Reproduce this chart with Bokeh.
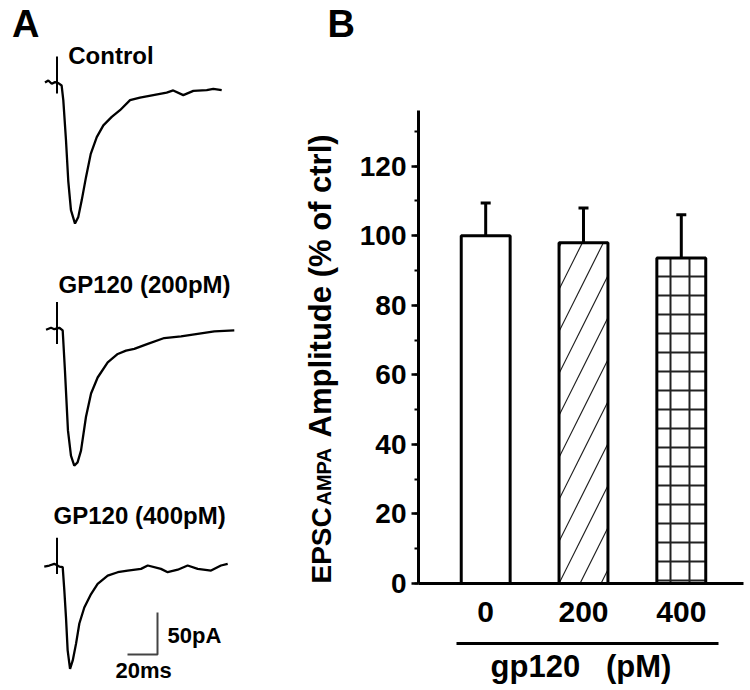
from bokeh.plotting import figure
from bokeh.models import (Range1d, Label, LinearAxis, SingleIntervalTicker, FixedTicker,
                          Whisker, TeeHead, ColumnDataSource)
from bokeh.layouts import row
from bokeh.embed import file_html
from bokeh.resources import INLINE
from math import pi

FONT = "Liberation Sans"

# ---------------- Panel A: EPSC traces (time in ms, current in pA vs baseline) ----
ctrl_t = [-8.0, -5.8, -3.5, -1.3, 0.9, 3.1, 4.2, 6.0, 7.5, 9.3, 12.0, 14.2, 16.5, 19.3,
          22.5, 26.5, 30.9, 36.5, 42.0, 48.7, 55.3, 64.2, 73.1, 77.5, 84.2, 90.9, 99.8,
          104.2, 109.8]
ctrl_i = [0.0, 2.4, -1.5, 0.4, -0.8, -3.6, -21, -69, -117, -152, -168, -160, -140, -113,
          -85, -65, -51, -41, -33, -21, -18, -15, -12, -9.5, -15, -10, -9, -7.5, -9]

gp200_t = [-7.3, -4.0, -1.8, 1.5, 3.8, 5.3, 7.3, 9.3, 11.5, 13.7, 16.0, 19.3, 22.7, 27.1,
           33.8, 40.5, 46.0, 51.5, 60.5, 71.5, 82.7, 93.8, 104.9, 118.2]
gp200_i = [-1.2, 1.2, -0.5, 1.2, -2, -50, -121, -151, -163, -159, -145, -105, -77, -58,
           -40, -30, -26, -24, -18, -11, -9, -6, -3, -2]

gp400_t = [-8.5, -5.1, -1.8, 1.5, 3.8, 4.9, 6.0, 7.1, 8.7, 10.5, 12.7, 14.9, 18.2, 22.7,
           27.1, 33.8, 40.5, 47.1, 56.0, 60.5, 69.3, 73.8, 80.5, 87.1, 93.8, 102.7, 109.3,
           113.8]
gp400_i = [-1.2, 0, 2, -1.2, -2, -30, -62, -101, -123, -113, -93, -69, -50, -34, -22, -12,
           -8, -6, -4, 0, -4, -8, -5, 0, -4, -6, 0, 2]

# stimulus artifact extent (pA, top / bottom)
artifact_hi = [31, 32, 33]
artifact_lo = [-13, -18, -10]
trace_labels = ["Control", "GP120 (200pM)", "GP120 (400pM)"]
scale_pa = 50
scale_ms = 20

# ---------------- Panel B: bar chart --------------------------------------------
doses = ["0", "200", "400"]
amplitude = [100.0, 98.0, 93.6]
sem = [9.4, 10.0, 12.4]
y_title = ["EPSC", "AMPA", "Amplitude (% of ctrl)"]
x_title = "gp120\u00a0\u00a0\u00a0(pM)"

# ================= Panel A (also carries panel B's rotated y title) =================
pa = figure(width=356, height=690, x_range=Range1d(-37.67, 199.67),
            y_range=Range1d(-723.8, 97.6),
            output_backend="svg", toolbar_location=None, x_axis_type=None, y_axis_type=None,
            min_border=0, outline_line_color=None)
pa.frame_align = False
pa.xgrid.visible = False
pa.ygrid.visible = False

txt = dict(text_font=FONT, text_font_style="bold", text_baseline="middle",
           text_color="black")

offsets = [0, -293.2, -575.0]
label_pos = [(7.5, 32.1), (1.0, -239.9), (-2.3, -514.9)]
traces = [(ctrl_t, ctrl_i), (gp200_t, gp200_i), (gp400_t, gp400_i)]
for k, (tt, ii) in enumerate(traces):
    off = offsets[k]
    pa.line(tt, [v + off for v in ii], line_color="black", line_width=2.3)
    pa.segment(x0=[0], y0=[artifact_hi[k] + off], x1=[0], y1=[artifact_lo[k] + off],
               line_color="black", line_width=2)
    pa.add_layout(Label(x=label_pos[k][0], y=label_pos[k][1], text=trace_labels[k],
                        text_font_size="24px", **txt))

# scale bar
sb_x, sb_y = 47.0, -681
pa.line([sb_x, sb_x + scale_ms, sb_x + scale_ms], [sb_y, sb_y, sb_y + scale_pa],
        line_color="#444444", line_width=2)
pa.add_layout(Label(x=73.7, y=-658.3, text=f"{scale_pa}pA", text_font_size="22px", **txt))
pa.add_layout(Label(x=39.0, y=-700, text=f"{scale_ms}ms", text_font_size="22px", **txt))
pa.add_layout(Label(x=-30.0, y=70.2, text="A", text_font_size="38px", **txt))

# rotated y title of panel B and the panel letter (screen units = canvas pixels)
rot = dict(x_units="screen", y_units="screen", angle=pi / 2, text_align="left", **txt)
pa.add_layout(Label(x=321, y=107, text=y_title[0], text_font_size="28px", **rot))
pa.add_layout(Label(x=323.8, y=185, text=y_title[1], text_font_size="20px", **rot))
pa.add_layout(Label(x=320, y=253, text=y_title[2], text_font_size="31px", **rot))
pa.add_layout(Label(x=327, y=667, x_units="screen", y_units="screen", text="B",
                    text_font_size="38px", **txt))

# ================= Panel B =================
xpos = list(range(1, len(doses) + 1))
pb = figure(width=394, height=690, x_range=Range1d(0.313, 3.636), y_range=Range1d(0, 136),
            output_backend="svg", toolbar_location=None, x_axis_type=None, y_axis_type=None,
            min_border_left=58, min_border_right=7, min_border_top=110, min_border_bottom=107,
            outline_line_color=None)
pb.frame_align = False

src = ColumnDataSource(dict(x=xpos, top=amplitude,
                            upper=[a + s for a, s in zip(amplitude, sem)],
                            pattern=["blank", "right_diagonal_line", "cross"],
                            hscale=[42, 42, 19], hweight=[1, 1.2, 2]))
pb.vbar(x="x", top="top", width=0.5, bottom=0, source=src, fill_color="white",
        line_color="black", line_width=3, hatch_pattern="pattern", hatch_scale="hscale",
        hatch_weight="hweight", hatch_color="#222222")
pb.add_layout(Whisker(source=src, base="x", lower="top", upper="upper", dimension="height",
                      line_width=3, line_color="black", lower_head=None,
                      upper_head=TeeHead(size=10, line_width=3, line_color="black")))

yaxis = LinearAxis(ticker=SingleIntervalTicker(interval=20, num_minor_ticks=2))
yaxis.axis_line_width = 3
yaxis.major_tick_line_width = 2.5
yaxis.major_tick_out = 7
yaxis.major_tick_in = 0
yaxis.minor_tick_out = 4
yaxis.minor_tick_in = 0
yaxis.minor_tick_line_width = 2
yaxis.major_label_standoff = 5
yaxis.major_label_text_font = FONT
yaxis.major_label_text_font_size = "28px"
yaxis.major_label_text_font_style = "bold"
yaxis.major_label_text_color = "black"
pb.add_layout(yaxis, "left")

xaxis = LinearAxis(ticker=FixedTicker(ticks=xpos),
                   major_label_overrides={x: d for x, d in zip(xpos, doses)})
xaxis.axis_line_width = 3
xaxis.major_tick_line_color = None
xaxis.major_tick_out = 0
xaxis.major_tick_in = 0
xaxis.minor_tick_line_color = None
xaxis.major_label_standoff = 18
xaxis.major_label_text_font = FONT
xaxis.major_label_text_font_size = "30px"
xaxis.major_label_text_font_style = "bold"
xaxis.major_label_text_color = "black"
xaxis.axis_label = " "
xaxis.axis_label_text_font_size = "8px"
xaxis.axis_label_standoff = 7
pb.add_layout(xaxis, "below")

xaxis2 = LinearAxis(ticker=FixedTicker(ticks=[]), bounds=(0.697, 3.384), axis_label=x_title)
xaxis2.axis_line_width = 3
xaxis2.major_tick_out = 0
xaxis2.major_tick_in = 0
xaxis2.major_label_standoff = 0
xaxis2.axis_label_standoff = 5
xaxis2.axis_label_text_font = FONT
xaxis2.axis_label_text_font_size = "31px"
xaxis2.axis_label_text_font_style = "bold"
xaxis2.axis_label_text_color = "black"
pb.add_layout(xaxis2, "below")

layout = row(pa, pb)
open("out.html", "w").write(file_html(layout, INLINE))
